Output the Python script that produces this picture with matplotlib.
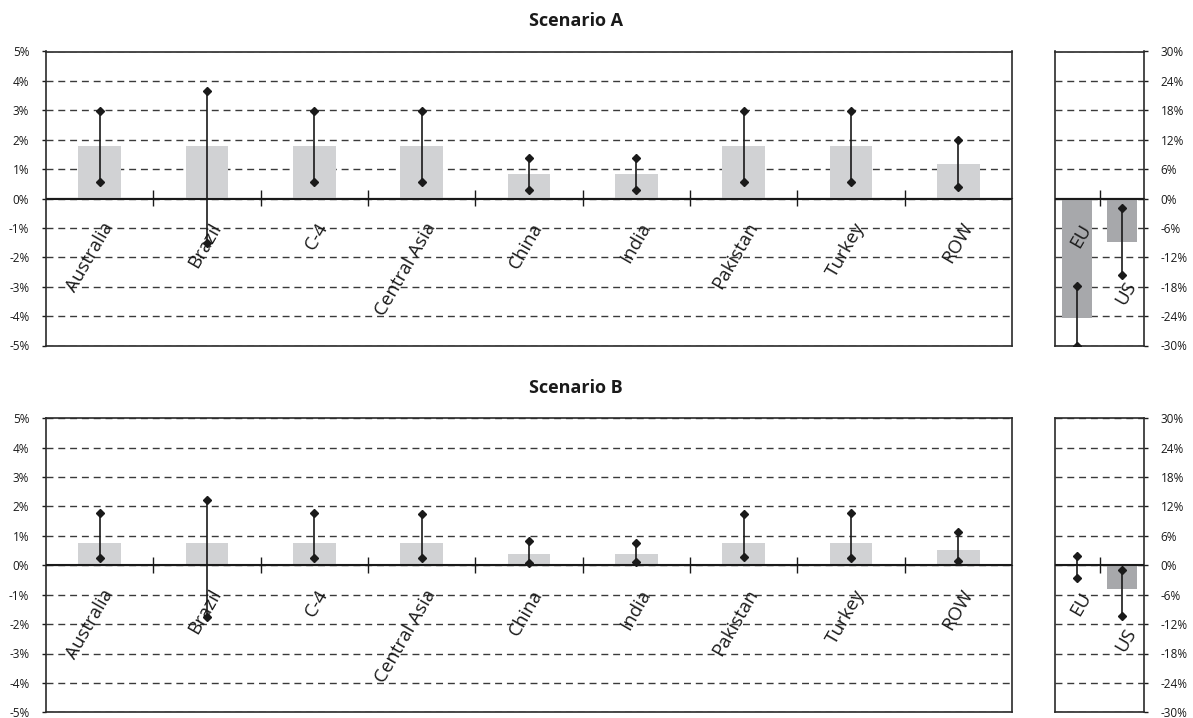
import numpy as np
import matplotlib
matplotlib.use("Agg")
import matplotlib.pyplot as plt
from matplotlib.ticker import FuncFormatter

plt.rcParams['font.family'] = ['Open Sans', 'DejaVu Sans']

regions = ["Australia", "Brazil", "C-4", "Central Asia", "China", "India",
           "Pakistan", "Turkey", "ROW"]
big = ["EU", "US"]

# Scenario A (percent)
a_bar = [1.80, 1.80, 1.80, 1.80, 0.84, 0.84, 1.80, 1.80, 1.19]
a_hi = [2.97, 3.65, 2.97, 2.97, 1.37, 1.37, 2.97, 2.97, 2.00]
a_lo = [0.57, -1.51, 0.57, 0.57, 0.30, 0.30, 0.57, 0.57, 0.40]
a_big_bar = [-24.3, -8.8]
a_big_hi = [-17.8, -1.9]
a_big_lo = [-30.0, -15.6]

# Scenario B (percent)
b_bar = [0.75, 0.75, 0.75, 0.75, 0.37, 0.37, 0.75, 0.75, 0.51]
b_hi = [1.79, 2.22, 1.79, 1.73, 0.83, 0.75, 1.73, 1.78, 1.12]
b_lo = [0.26, -1.76, 0.26, 0.26, 0.09, 0.11, 0.27, 0.26, 0.15]
b_big_bar = [0.2, -4.8]
b_big_hi = [1.84, -1.0]
b_big_lo = [-2.6, -10.4]

W, H = 1193, 718
LIGHT = "#d1d2d4"
DARK = "#a7a8ab"
pct = FuncFormatter(lambda v, p: "%d%%" % round(v))


def panel(ax, names, bar, hi, lo, lim, step, color, width, label_dy, side):
    x = np.arange(len(names))
    ax.bar(x, bar, width=width, color=color, zorder=2)
    ax.axhline(0, color="#1a1a1a", lw=1.5, zorder=3)
    ax.vlines(x, lo, hi, color="#1a1a1a", lw=1.2, zorder=4)
    ax.plot(x, hi, "D", color="#1a1a1a", ms=4, zorder=5)
    ax.plot(x, lo, "D", color="#1a1a1a", ms=4, zorder=5)
    ax.set_xlim(-0.5, len(names) - 0.5)
    ax.set_ylim(-lim, lim)
    ax.set_yticks(np.arange(-lim, lim + step / 2, step))
    ax.yaxis.set_major_formatter(pct)
    ax.grid(axis="y", ls=(0, (5, 3.5)), color="#3a3a3a", lw=1.0, zorder=1)
    ax.set_xticks([])
    for s in ax.spines.values():
        s.set_color("#2a2a2a")
        s.set_linewidth(1.2)
    if side == "right":
        ax.yaxis.tick_right()
    ax.tick_params(axis="y", length=3, width=1, pad=9, labelsize=8.5,
                   colors="#1a1a1a")
    # category boundary ticks on the zero line
    zero = ax.secondary_xaxis(0.5)
    zero.set_xticks(np.arange(len(names) - 1) + 0.5)
    zero.set_xticklabels([])
    zero.tick_params(direction="inout", length=11, width=1,
                     labelbottom=False, labeltop=False, colors="#1a1a1a")
    zero.spines["bottom"].set_visible(False)
    for i, name in enumerate(names):
        ax.annotate(name, xy=(i, 0), xytext=(2, label_dy[i]),
                    textcoords="offset pixels", rotation=60,
                    rotation_mode="anchor", ha="right", va="top",
                    fontsize=13.5, color="#1a1a1a", zorder=6)


fig = plt.figure(figsize=(W / 100, H / 100), dpi=100)

rows = [(51.5, a_bar, a_hi, a_lo, a_big_bar, a_big_hi, a_big_lo, "Scenario A", [-22, -80]),
        (418.3, b_bar, b_hi, b_lo, b_big_bar, b_big_hi, b_big_lo, "Scenario B", [-24, -60])]

for top, bar, hi, lo, bb, bh, bl, title, big_dy in rows:
    h = 294.0
    y0 = 1 - (top + h) / H
    ax1 = fig.add_axes([46 / W, y0, (1012 - 46) / W, h / H])
    panel(ax1, regions, bar, hi, lo, 5, 1, LIGHT, 0.4,
          [-21] * len(regions), "left")
    ax2 = fig.add_axes([1055 / W, y0, (1144 - 1055) / W, h / H])
    panel(ax2, big, bb, bh, bl, 30, 6, DARK, 0.67, big_dy, "right")
    fig.text(576 / W, 1 - (top - 30) / H, title, ha="center", va="center",
             fontsize=13, fontweight="bold", color="#1a1a1a")

fig.savefig("out.png", dpi=100)
